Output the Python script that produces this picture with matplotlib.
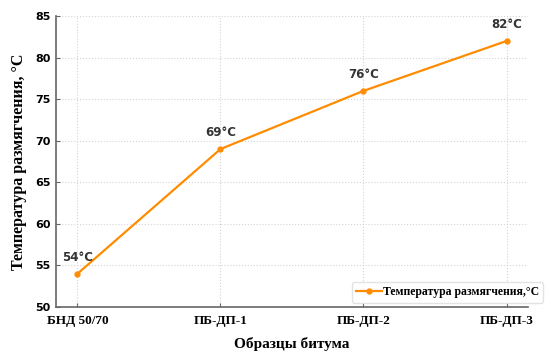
import matplotlib
matplotlib.use("Agg")
import matplotlib.pyplot as plt

samples = ["БНД 50/70", "ПБ-ДП-1", "ПБ-ДП-2", "ПБ-ДП-3"]
temps = [54, 69, 76, 82]
yticks = [50, 55, 60, 65, 70, 75, 80, 85]

color = "#ff8c00"
fig = plt.figure(figsize=(5.51, 3.57), dpi=100)
ax = fig.add_axes([0.1016, 0.140, 0.8566, 0.815])
x = list(range(len(samples)))
ax.plot(x, temps, color=color, lw=1.6, marker="o", ms=3.5, label="Температура размягчения,°C", zorder=3)
for xi, t in zip(x, temps):
    ax.annotate(f"{t}°C", (xi, t), xytext=(0, 7), textcoords="offset points",
                ha="center", va="bottom", fontsize=8.5, fontweight="bold", color="#333333",
                family="DejaVu Sans")
ax.set_xlim(-0.15, 3.15)
ax.set_ylim(50, 85)
ax.set_yticks(yticks)
ax.set_xticks(x)
ax.set_xticklabels(samples, family="Liberation Serif", fontweight="bold", fontsize=9.5)
for lab in ax.get_yticklabels():
    lab.set_fontweight("bold")
    lab.set_fontsize(8)
    lab.set_family("DejaVu Sans")
ax.tick_params(direction="in", length=3, color="#666666", pad=4)
ax.tick_params(axis="x", pad=6)
ax.grid(True, linestyle=":", color="#d4d4d4", lw=0.8)
for s in ["top", "right"]:
    ax.spines[s].set_visible(False)
for s in ["left", "bottom"]:
    ax.spines[s].set_color("#666666")
    ax.spines[s].set_linewidth(1.2)
ax.set_xlabel("Образцы битума", family="Liberation Serif", fontweight="bold", fontsize=11, labelpad=7)
ax.set_ylabel("Температура размягчения, °C", family="Liberation Serif", fontweight="bold", fontsize=11.5, labelpad=6)
leg = ax.legend(loc="lower right", bbox_to_anchor=(1.045, -0.005), prop={"family": "Liberation Serif", "weight": "bold", "size": 8.5},
                frameon=True, handlelength=2.2, borderpad=0.35, handletextpad=0.1)
leg.get_frame().set_edgecolor("#dddddd")
fig.savefig("out.png", dpi=100)
